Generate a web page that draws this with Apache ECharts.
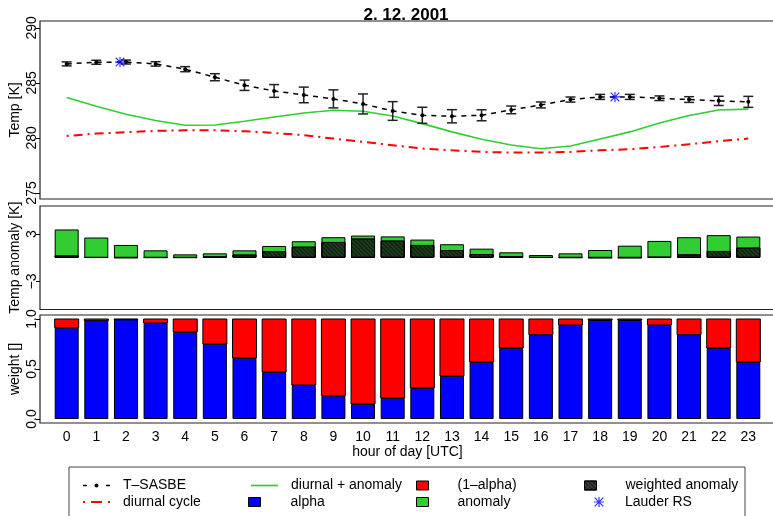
<!DOCTYPE html>
<html><head><meta charset="utf-8">
<script src="https://cdn.jsdelivr.net/npm/echarts@6/dist/echarts.min.js"></script>
<style>html,body{margin:0;padding:0;background:#fff}#c{width:773px;height:516px}</style>
</head><body><div id="c"></div>
<script>
// ---- data ----
const hours = [0,1,2,3,4,5,6,7,8,9,10,11,12,13,14,15,16,17,18,19,20,21,22,23];
const tSasbe = [286.73,286.88,286.9,286.73,286.25,285.52,284.79,284.27,283.91,283.55,283.09,282.45,282.06,281.97,282.06,282.55,283.0,283.49,283.73,283.73,283.61,283.49,283.37,283.28];
const tSasbeErr = [0.18,0.18,0.18,0.2,0.23,0.32,0.47,0.58,0.71,0.82,0.91,0.85,0.73,0.6,0.5,0.35,0.27,0.23,0.23,0.23,0.21,0.26,0.42,0.5];
const diurnalAnomaly = [283.67,282.88,282.15,281.59,281.15,281.18,281.52,281.9,282.27,282.52,282.43,282.0,281.3,280.55,279.88,279.36,279.02,279.27,279.9,280.55,281.35,282.04,282.54,282.62];
const diurnalCycle = [280.18,280.4,280.52,280.64,280.7,280.7,280.61,280.45,280.25,279.94,279.64,279.34,279.04,278.88,278.73,278.67,278.67,278.73,278.88,278.97,279.18,279.43,279.7,279.94];
const lauderHours = [1.8, 18.5];
const lauderTemp = [286.9, 283.73];
const anomaly = [3.58,2.56,1.62,0.94,0.43,0.56,0.94,1.49,2.09,2.6,2.81,2.7,2.3,1.71,1.15,0.69,0.34,0.56,0.98,1.53,2.13,2.6,2.86,2.68];
const weightedAnomaly = [0.3,0.06,0.02,0.05,0.05,0.15,0.4,0.84,1.4,2.0,2.43,2.17,1.62,0.98,0.47,0.22,0.06,0.04,0.01,0.01,0.1,0.43,0.86,1.28];
const alpha = [0.913,0.983,0.996,0.96,0.87,0.75,0.61,0.47,0.34,0.233,0.15,0.21,0.31,0.43,0.57,0.71,0.843,0.94,0.99,0.99,0.94,0.843,0.71,0.57];
const oneMinusAlpha = alpha.map(a => +(1 - a).toFixed(3));
const tempTicks = [275, 280, 285, 290];
const anomTicks = [-3, 3];
const weightTicks = [0, 0.5, 1];
const titleText = '2. 12. 2001';

// ---- chart ----
const FONT = 'Liberation Sans, Arial, Helvetica, sans-serif';
const chart = echarts.init(document.getElementById('c'), null, {renderer: 'canvas'});
const pair = (xs, ys) => xs.map((x, i) => [x, ys[i]]);
const STAR = 'path://M4.4,0h1.2v10h-1.2z M0,4.4h10v1.2h-10z M1.1,0.25 L9.75,8.9 L8.9,9.75 L0.25,1.1z M8.9,0.25 L9.75,1.1 L1.1,9.75 L0.25,8.9z';
const ICON_TSASBE = 'path://M0,1.2h4v1.6h-4z M11.5,2 A2,2 0 1,0 15.5,2 A2,2 0 1,0 11.5,2 Z M23,1.2h4v1.6h-4z';
const ICON_CYCLE = 'path://M0,0.5h2v2h-2z M8,0.5h11v2h-11z M25,0.5h2v2h-2z M0,0h0.01v3h-0.01z';
const ICON_SOLID = 'path://M0,0h27v1.7h-27z';
const BAR_W = 24;

const gridBase = {left: 40, width: 735, show: true, borderColor: '#222', borderWidth: 1.2,
  backgroundColor: 'transparent', outerBoundsMode: 'none', containLabel: false};
const xBase = {type: 'value', min: -0.9, max: 23.9, splitLine: {show: false}};
const yLabel = {rotate: 90, fontSize: 14, color: '#000', fontFamily: FONT, margin: 1};
const yBase = (min, max, ticks, name, fmt) => ({
  type: 'value', min, max, splitLine: {show: false},
  axisLine: {show: false, onZero: false},
  axisTick: {show: true, length: 4, customValues: ticks, lineStyle: {color: '#000'}},
  axisLabel: Object.assign({customValues: ticks, formatter: fmt || (v => String(v))}, yLabel),
  name, nameLocation: 'middle', nameRotate: 90, nameGap: 18, nameMoveOverlap: false,
  nameTextStyle: {fontSize: 14, color: '#000', fontFamily: FONT}
});

function legendItem(name, left, cy, w, h, pad, icon, itemStyle) {
  const d = {name};
  if (icon) d.icon = icon;
  if (itemStyle) d.itemStyle = itemStyle;
  return {
    data: [d], left, top: cy - 8, itemWidth: w, itemHeight: h, padding: 0,
    selectedMode: false, symbolKeepAspect: true,
    textStyle: {fontSize: 14, color: '#000', fontFamily: FONT, padding: [0, 0, 0, pad]}
  };
}
const R1 = 486.5, R2 = 503;
const boxStyle = c => ({color: c, borderColor: '#000', borderWidth: 1});

const option = {
  animation: false,
  backgroundColor: '#fff',
  title: {text: titleText, left: 406, top: 7, padding: 0, textAlign: 'center',
    textStyle: {fontSize: 17, fontWeight: 'bold', color: '#000', fontFamily: FONT}},
  grid: [
    Object.assign({top: 21, height: 178}, gridBase),
    Object.assign({top: 206, height: 103.5}, gridBase),
    Object.assign({top: 315, height: 108}, gridBase)
  ],
  xAxis: [
    Object.assign({gridIndex: 0, show: false}, xBase),
    Object.assign({gridIndex: 1, show: false}, xBase),
    Object.assign({gridIndex: 2, axisLine: {show: false, onZero: false}, axisTick: {show: false},
      axisLabel: {customValues: hours, fontSize: 14, color: '#000', fontFamily: FONT, margin: 7},
      name: 'hour of day [UTC]', nameLocation: 'middle', nameGap: 22, nameMoveOverlap: false,
      nameTextStyle: {fontSize: 14, color: '#000', fontFamily: FONT}}, xBase)
  ],
  yAxis: [
    Object.assign({gridIndex: 0}, yBase(274.45, 290.63, tempTicks, 'Temp [K]')),
    Object.assign({gridIndex: 1}, yBase(-6.55, 6.55, anomTicks, 'Temp anomaly [K]', v => v < 0 ? '\u2212' + Math.abs(v) : String(v))),
    Object.assign({gridIndex: 2}, yBase(-0.04, 1.04, weightTicks, 'weight []', v => v.toFixed(1)))
  ],
  legend: [
    legendItem('T\u2013SASBE', 83, R1, 27, 4, 8, ICON_TSASBE, {color: '#000'}),
    legendItem('diurnal cycle', 83, R2, 27, 3, 8, ICON_CYCLE, {color: '#FF0000'}),
    legendItem('diurnal + anomaly', 251, R1, 27, 2, 8, ICON_SOLID, {color: '#33CC33'}),
    legendItem('alpha', 248, R2, 12, 9, 25, 'rect', boxStyle('#0000FF')),
    legendItem('(1\u2013alpha)', 416, R1, 12, 9, 24, 'rect', boxStyle('#FF0000')),
    legendItem('anomaly', 416, R2, 12, 9, 24, 'rect', boxStyle('#32CD32')),
    legendItem('weighted anomaly', 584, R1, 12, 9, 24, 'rect', {color: '#3a3a3a', borderColor: '#000', borderWidth: 1}),
    legendItem('Lauder RS', 594, R2, 10, 10, 16, STAR, {color: '#0000FF'})
  ],
  graphic: [
    {type: 'rect', shape: {x: 69, y: 467, width: 676, height: 60}, silent: true,
      style: {fill: 'none', stroke: '#444', lineWidth: 1}}
  ],
  series: [
    {
      type: 'custom', name: 'err', xAxisIndex: 0, yAxisIndex: 0, z: 3,
      data: hours.map((h, i) => [h, tSasbe[i], tSasbeErr[i]]),
      encode: {x: 0, y: 1},
      renderItem(params, api) {
        const x = api.value(0), y = api.value(1), e = api.value(2);
        const t = api.coord([x, y + e]), b = api.coord([x, y - e]);
        const hw = 5, st = {stroke: '#222', lineWidth: 1.5};
        return {type: 'group', children: [
          {type: 'line', shape: {x1: t[0], y1: t[1], x2: b[0], y2: b[1]}, style: st},
          {type: 'line', shape: {x1: t[0] - hw, y1: t[1], x2: t[0] + hw, y2: t[1]}, style: st},
          {type: 'line', shape: {x1: b[0] - hw, y1: b[1], x2: b[0] + hw, y2: b[1]}, style: st}
        ]};
      }
    },
    {
      type: 'line', name: 'T\u2013SASBE', xAxisIndex: 0, yAxisIndex: 0, z: 4,
      data: pair(hours, tSasbe), symbol: 'circle', symbolSize: 4, showSymbol: true,
      itemStyle: {color: '#000'}, lineStyle: {color: '#000', width: 1.5, type: [5, 5]}
    },
    {
      type: 'line', name: 'diurnal + anomaly', xAxisIndex: 0, yAxisIndex: 0, z: 2,
      data: pair(hours, diurnalAnomaly), symbol: 'none',
      itemStyle: {color: '#33CC33'}, lineStyle: {color: '#33CC33', width: 1.6}
    },
    {
      type: 'line', name: 'diurnal cycle', xAxisIndex: 0, yAxisIndex: 0, z: 2,
      data: pair(hours, diurnalCycle), symbol: 'none',
      itemStyle: {color: '#FF0000'}, lineStyle: {color: '#FF0000', width: 2, type: [2, 5, 9, 5]}
    },
    {
      type: 'scatter', name: 'Lauder RS', xAxisIndex: 0, yAxisIndex: 0, z: 5,
      data: pair(lauderHours, lauderTemp), symbol: STAR, symbolSize: 10,
      itemStyle: {color: '#0000FF'}
    },
    {
      type: 'bar', name: 'anomaly', xAxisIndex: 1, yAxisIndex: 1, barWidth: BAR_W, barGap: '-100%',
      data: pair(hours, anomaly),
      itemStyle: {color: '#32CD32', borderColor: '#000', borderWidth: 1}
    },
    {
      type: 'bar', name: 'weighted anomaly', xAxisIndex: 1, yAxisIndex: 1, barWidth: BAR_W, barGap: '-100%',
      data: pair(hours, weightedAnomaly),
      itemStyle: {color: '#1d3b1d', borderColor: '#000', borderWidth: 1,
        decal: {symbol: 'rect', symbolSize: 1, dashArrayX: [1, 0], dashArrayY: [1, 2], rotation: Math.PI / 4, color: 'rgba(0,0,0,0.55)'}}
    },
    {
      type: 'bar', name: 'alpha', xAxisIndex: 2, yAxisIndex: 2, barWidth: BAR_W,
      data: pair(hours, alpha),
      itemStyle: {color: '#0000FF', borderColor: '#000', borderWidth: 1}
    },
    {
      type: 'custom', name: '(1\u2013alpha)', xAxisIndex: 2, yAxisIndex: 2, z: 2,
      data: hours.map((h, i) => [h, alpha[i], oneMinusAlpha[i]]),
      encode: {x: 0, y: [1, 2]},
      itemStyle: {color: '#FF0000'},
      renderItem(params, api) {
        const x = api.value(0), lo = api.value(1), v = api.value(2);
        const p0 = api.coord([x, lo]), p1 = api.coord([x, lo + v]);
        return {type: 'rect', shape: {x: p0[0] - BAR_W / 2, y: p1[1], width: BAR_W, height: p0[1] - p1[1]},
          style: {fill: '#FF0000', stroke: '#000', lineWidth: 1}};
      }
    }
  ]
};
chart.setOption(option);
</script>
</body></html>
